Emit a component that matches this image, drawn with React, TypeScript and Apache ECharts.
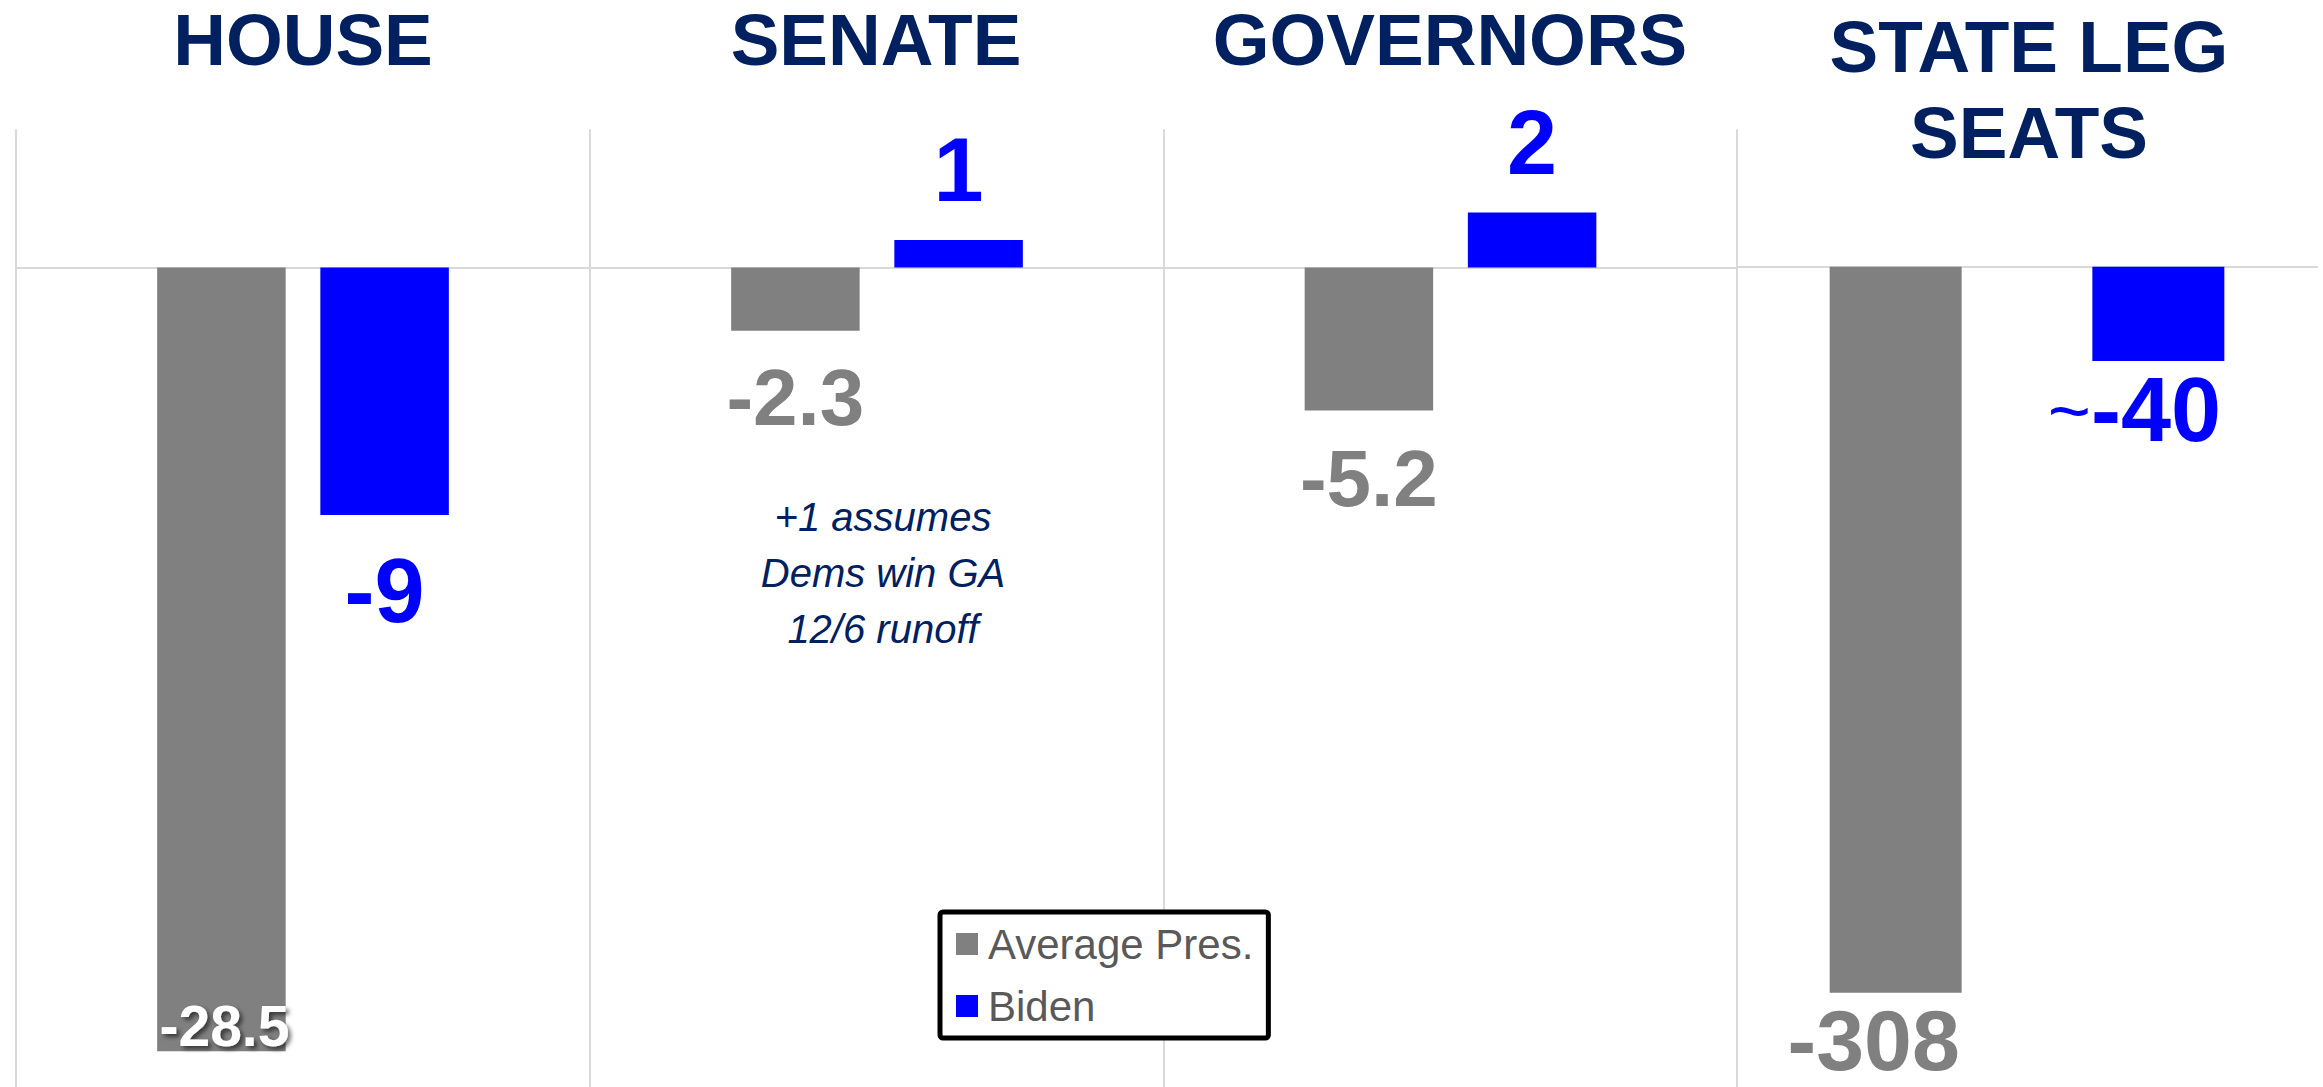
import React, { useEffect, useRef } from "react";
import * as echarts from "echarts";

// ---- data ----
const categories = ["HOUSE", "SENATE", "GOVERNORS", "STATE LEG SEATS"];
const titleLines = [["HOUSE"], ["SENATE"], ["GOVERNORS"], ["STATE LEG", "SEATS"]];
const seriesNames = ["Average Pres.", "Biden"];
const averagePres = [-28.5, -2.3, -5.2, -308];
const biden = [-9, 1, 2, -40];
const averageLabels = ["-28.5", "-2.3", "-5.2", "-308"];
const bidenLabels = ["-9", "1", "2", "~-40"];
const noteLines = ["+1 assumes", "Dems win GA", "12/6 runoff"];
const axisMin = [-29.8, -29.8, -29.8, -348];
const axisMax = [5, 5, 5, 58];

// ---- styles / layout ----
const GRAY = "#808080";
const BLUE = "#0000FF";
const NAVY = "#002060";
const LINE = "#D9D9D9";
const FONT = "Liberation Sans";
const panelLeft = [16, 590, 1164, 1737];
const panelWidth = [574, 574, 573, 580];
const barWidths = [128.5, 128.5, 128.5, 132];
const barGaps = ["27%", "27%", "27%", "99%"];
const titleX = [303, 876, 1450, 2029];
const titleY = [[39], [39], [39], [46, 132]];

const grayLabelStyle: any[] = [
  {
    position: "insideBottom", distance: 0, offset: [3, 3], color: "#FFFFFF", fontSize: 57,
    textShadowColor: "rgba(0,0,0,0.55)", textShadowBlur: 4, textShadowOffsetX: 3, textShadowOffsetY: 3,
  },
  { position: "bottom", distance: 27, color: GRAY, fontSize: 80 },
  { position: "bottom", distance: 28, color: GRAY, fontSize: 80 },
  { position: "bottom", distance: 4, offset: [-22, 0], color: GRAY, fontSize: 86 },
];
const blueLabelStyle: any[] = [
  { position: "bottom", distance: 31, color: BLUE, fontSize: 90 },
  { position: "top", distance: 25, color: BLUE, fontSize: 90 },
  { position: "top", distance: 25, color: BLUE, fontSize: 90 },
  {
    position: "bottom", distance: 4, offset: [-24, 0], color: BLUE, fontSize: 90,
    rich: {
      t: { fontSize: 74, fontWeight: "normal", color: BLUE, fontFamily: FONT },
      v: { fontSize: 90, fontWeight: "bold", color: BLUE, fontFamily: FONT },
    },
  },
];

function buildOption() {
  const grid = panelLeft.map((l, i) => ({ left: l, width: panelWidth[i], top: 130, height: 957 }));
  const xAxis = categories.map((c, i) => ({
    type: "category",
    gridIndex: i,
    data: [c],
    axisLine: { show: true, onZero: true, lineStyle: { color: LINE, width: 2 } },
    axisTick: { show: false },
    axisLabel: { show: false },
    splitLine: { show: false },
  }));
  const yAxis = categories.map((_, i) => ({
    type: "value",
    gridIndex: i,
    min: axisMin[i],
    max: axisMax[i],
    axisLine: { show: true, lineStyle: { color: LINE, width: 2 } },
    axisTick: { show: false },
    axisLabel: { show: false },
    splitLine: { show: false },
  }));
  const series: any[] = [];
  categories.forEach((_, i) => {
    series.push({
      type: "bar",
      name: seriesNames[0],
      xAxisIndex: i,
      yAxisIndex: i,
      data: [averagePres[i]],
      barWidth: barWidths[i],
      barGap: barGaps[i],
      itemStyle: { color: GRAY },
      label: {
        show: true,
        fontWeight: "bold",
        fontFamily: FONT,
        formatter: () => averageLabels[i],
        ...grayLabelStyle[i],
      },
    });
    const bl = bidenLabels[i];
    const isRich = !!blueLabelStyle[i].rich;
    series.push({
      type: "bar",
      name: seriesNames[1],
      xAxisIndex: i,
      yAxisIndex: i,
      data: [biden[i]],
      barWidth: barWidths[i],
      barGap: barGaps[i],
      itemStyle: { color: BLUE },
      label: {
        show: true,
        fontWeight: "bold",
        fontFamily: FONT,
        formatter: () => (isRich ? `{t|${bl.slice(0, 1)}}{v|${bl.slice(1)}}` : bl),
        ...blueLabelStyle[i],
      },
    });
  });

  const graphics: any[] = [];
  titleLines.forEach((lines, i) => {
    lines.forEach((t, j) => {
      graphics.push({
        type: "text",
        x: titleX[i],
        y: titleY[i][j],
        style: {
          text: t,
          fill: NAVY,
          font: `bold 73px "${FONT}"`,
          textAlign: "center",
          textVerticalAlign: "middle",
        },
      });
    });
  });
  noteLines.forEach((t, j) => {
    graphics.push({
      type: "text",
      x: 883,
      y: 517 + j * 56,
      style: {
        text: t,
        fill: NAVY,
        font: `italic 40px "${FONT}"`,
        textAlign: "center",
        textVerticalAlign: "middle",
      },
    });
  });

  return {
    animation: false,
    backgroundColor: "#FFFFFF",
    textStyle: { fontFamily: FONT },
    grid,
    xAxis,
    yAxis,
    series,
    legend: {
      data: seriesNames,
      orient: "vertical",
      left: 940,
      top: 912,
      padding: [11, 15, 11, 16],
      itemGap: 20,
      itemWidth: 22,
      itemHeight: 22,
      icon: "rect",
      selectedMode: false,
      backgroundColor: "#FFFFFF",
      borderColor: "#000000",
      borderWidth: 5,
      borderRadius: 3,
      textStyle: { fontSize: 42, color: "#595959", fontFamily: FONT, padding: [0, 0, 0, 5] },
    },
    graphic: graphics,
  };
}

export default function App() {
  const ref = useRef<HTMLDivElement>(null);
  useEffect(() => {
    if (!ref.current) return;
    const chart = echarts.init(ref.current, undefined, { renderer: "svg" });
    chart.setOption(buildOption() as any);
    return () => chart.dispose();
  }, []);
  return (
    <div
      ref={ref}
      style={{ position: "absolute", left: 0, top: 0, width: 2323, height: 1087, background: "#fff" }}
    />
  );
}
